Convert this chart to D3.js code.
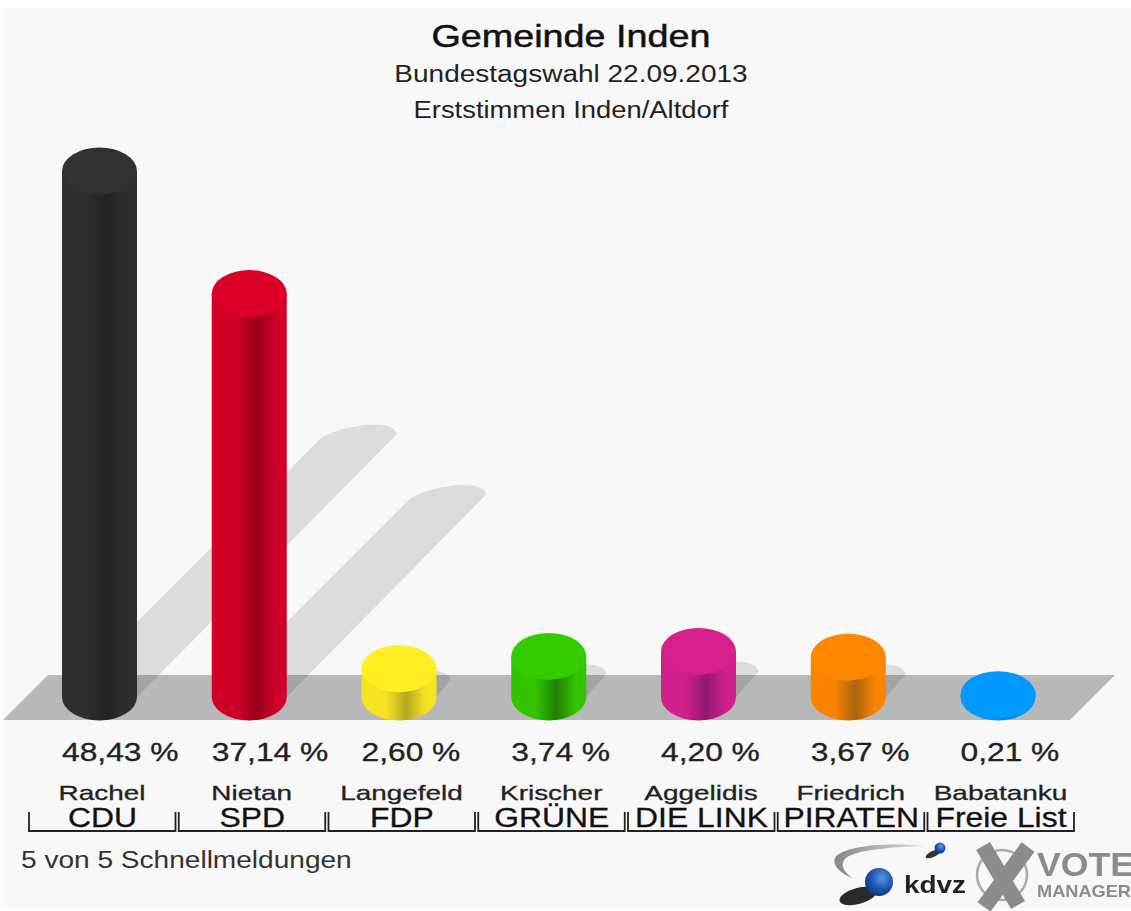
<!DOCTYPE html>
<html>
<head>
<meta charset="utf-8">
<script src="https://cdn.jsdelivr.net/npm/d3@7"></script>
<style>
  html, body { margin: 0; padding: 0; background: #fff; }
  svg { display: block; filter: blur(0.6px); }
  text { font-family: "Liberation Sans", Arial, sans-serif; }
</style>
</head>
<body>
<svg width="1131" height="911"></svg>
<script>
const parties = ["CDU", "SPD", "FDP", "GRÜNE", "DIE LINK", "PIRATEN", "Freie List"];
const candidates = ["Rachel", "Nietan", "Langefeld", "Krischer", "Aggelidis", "Friedrich", "Babatanku"];
const values = [48.43, 37.14, 2.60, 3.74, 4.20, 3.67, 0.21];
const valueLabels = ["48,43 %", "37,14 %", "2,60 %", "3,74 %", "4,20 %", "3,67 %", "0,21 %"];
const topColors = ["#313131", "#dc0028", "#ffee22", "#33cc00", "#d8208c", "#ff8800", "#0099ff"];
const sideColors = ["#2e2e2e", "#d00028", "#f6e422", "#33c400", "#d0208c", "#f88400", "#0099ff"];
const darkColors = ["#232323", "#980018", "#b8a820", "#1f8000", "#901870", "#ac6410", "#0088e8"];

const svg = d3.select("svg");
const barRx = 37.5;
const barRy = 23.5;

const x = d3.scalePoint()
  .domain(parties)
  .range([99.5, 998]);

const y = d3.scaleLinear()
  .domain([0, 48.43])
  .range([697, 171]);

// the reference text is wider than the font, stretch it after measuring
function stretch(sel, factor) {
  sel.each(function () {
    d3.select(this)
      .attr("textLength", this.getComputedTextLength() * factor)
      .attr("lengthAdjust", "spacingAndGlyphs");
  });
}

// background panel
svg.append("rect")
  .attr("x", 3).attr("y", 8)
  .attr("width", 1128).attr("height", 900)
  .attr("fill", "#f8f8f8");

// floor
svg.append("path")
  .attr("d", "M3,720 L48,675 L1115,675 L1070,720 Z")
  .attr("fill", "#b8b8b8");

// gradients for the cylinder sides
const defs = svg.append("defs");
parties.forEach((p, i) => {
  const grad = defs.append("linearGradient")
    .attr("id", "side" + i)
    .attr("x1", "0%").attr("x2", "100%");
  grad.append("stop").attr("offset", "0%").attr("stop-color", sideColors[i]);
  grad.append("stop").attr("offset", "32%").attr("stop-color", sideColors[i]);
  grad.append("stop").attr("offset", "60%").attr("stop-color", darkColors[i]);
  grad.append("stop").attr("offset", "86%").attr("stop-color", sideColors[i]);
  grad.append("stop").attr("offset", "100%").attr("stop-color", sideColors[i]);
});

// shadows go up and to the right at 45 degrees, the end is a skewed cap
const shadowFactor = 0.494;
svg.append("g").selectAll("path")
  .data(parties)
  .join("path")
  .attr("d", (d, i) => {
    const cx = x(d);
    const s = (y(0) - y(values[i])) * shadowFactor;
    const left = cx + s - barRx;
    const top = y(0) - s;
    return `M${cx - barRx},${y(0)} L${left},${top}`
      + ` C${left + 22},${top - 12} ${left + 72},${top - 20} ${left + 75},${top - 3}`
      + ` L${cx + barRx},${y(0)} Z`;
  })
  .attr("fill", "#000")
  .attr("opacity", 0.11);

// cylinders
const bars = svg.append("g").selectAll("g")
  .data(parties)
  .join("g");

bars.append("path")
  .attr("d", (d, i) => {
    const cx = x(d);
    return `M${cx - barRx},${y(values[i])} L${cx - barRx},${y(0)}`
      + ` A${barRx},${barRy} 0 0 0 ${cx + barRx},${y(0)}`
      + ` L${cx + barRx},${y(values[i])} Z`;
  })
  .attr("fill", (d, i) => `url(#side${i})`);

bars.append("ellipse")
  .attr("cx", d => x(d))
  .attr("cy", (d, i) => y(values[i]))
  .attr("rx", barRx)
  .attr("ry", barRy)
  .attr("fill", (d, i) => topColors[i]);

// titles
svg.append("text")
  .attr("x", 571).attr("y", 47)
  .attr("text-anchor", "middle")
  .attr("font-size", 32)
  .attr("fill", "#111")
  .attr("stroke", "#111")
  .attr("stroke-width", 0.5)
  .text("Gemeinde Inden")
  .call(stretch, 1.18);

svg.append("text")
  .attr("x", 571).attr("y", 82)
  .attr("text-anchor", "middle")
  .attr("font-size", 23)
  .attr("fill", "#222")
  .text("Bundestagswahl 22.09.2013")
  .call(stretch, 1.217);

svg.append("text")
  .attr("x", 571).attr("y", 118)
  .attr("text-anchor", "middle")
  .attr("font-size", 23)
  .attr("fill", "#222")
  .text("Erststimmen Inden/Altdorf")
  .call(stretch, 1.19);

// labels under the floor
svg.append("g").selectAll("text")
  .data(parties)
  .join("text")
  .attr("x", d => x(d) - barRx)
  .attr("y", 761)
  .attr("font-size", 25)
  .attr("fill", "#222")
  .attr("stroke", "#222")
  .attr("stroke-width", 0.3)
  .text((d, i) => valueLabels[i])
  .call(stretch, 1.27);

svg.append("g").selectAll("text")
  .data(parties)
  .join("text")
  .attr("x", d => x(d) + 2.5)
  .attr("y", 800)
  .attr("text-anchor", "middle")
  .attr("font-size", 21)
  .attr("fill", "#222")
  .attr("stroke", "#222")
  .attr("stroke-width", 0.3)
  .text((d, i) => candidates[i])
  .call(stretch, 1.33);

svg.append("g").selectAll("text")
  .data(parties)
  .join("text")
  .attr("x", d => x(d) + 3)
  .attr("y", 827)
  .attr("text-anchor", "middle")
  .attr("font-size", 27)
  .attr("fill", "#111")
  .attr("stroke", "#111")
  .attr("stroke-width", 0.3)
  .text(d => d)
  .call(stretch, 1.18);

// brackets
svg.append("g").selectAll("path")
  .data(parties)
  .join("path")
  .attr("d", d => {
    const cx = x(d);
    return `M${cx - 70.5},812 V831 H${cx + 76} V812`;
  })
  .attr("fill", "none")
  .attr("stroke", "#222")
  .attr("stroke-width", 1.8);

svg.append("text")
  .attr("x", 21).attr("y", 868)
  .attr("font-size", 23)
  .attr("fill", "#333")
  .text("5 von 5 Schnellmeldungen")
  .call(stretch, 1.22);

// kdvz logo
const logo = svg.append("g");
const sphere = defs.append("radialGradient")
  .attr("id", "sphere")
  .attr("cx", "60%").attr("cy", "35%").attr("r", "65%");
sphere.append("stop").attr("offset", "0%").attr("stop-color", "#5f96e0");
sphere.append("stop").attr("offset", "60%").attr("stop-color", "#1f55b0");
sphere.append("stop").attr("offset", "100%").attr("stop-color", "#123a80");

const swoosh = defs.append("linearGradient").attr("id", "swoosh");
swoosh.append("stop").attr("offset", "0%").attr("stop-color", "#888");
swoosh.append("stop").attr("offset", "100%").attr("stop-color", "#ddd");

logo.append("path")
  .attr("d", "M925,846 C885,842 842,846 835,858 C832,866 842,874 852,878 C842,870 840,864 846,858 C856,850 890,847 925,846 Z")
  .attr("fill", "url(#swoosh)");
logo.append("ellipse")
  .attr("cx", 858).attr("cy", 896).attr("rx", 19).attr("ry", 8)
  .attr("transform", "rotate(-15 858 896)")
  .attr("fill", "#2a2a2a");
logo.append("circle")
  .attr("cx", 879).attr("cy", 882).attr("r", 14)
  .attr("fill", "url(#sphere)");
logo.append("ellipse")
  .attr("cx", 933).attr("cy", 854).attr("rx", 8).attr("ry", 3)
  .attr("transform", "rotate(-25 933 854)")
  .attr("fill", "#333");
logo.append("circle")
  .attr("cx", 940).attr("cy", 848).attr("r", 5.5)
  .attr("fill", "url(#sphere)");
logo.append("text")
  .attr("x", 904).attr("y", 893)
  .attr("font-family", "Liberation Serif, serif")
  .attr("font-weight", "bold")
  .attr("font-size", 24)
  .attr("textLength", 62)
  .attr("lengthAdjust", "spacingAndGlyphs")
  .attr("fill", "#222")
  .text("kdvz");

// vote manager logo
logo.append("circle")
  .attr("cx", 1002).attr("cy", 875).attr("r", 25)
  .attr("fill", "none")
  .attr("stroke", "#aaa")
  .attr("stroke-width", 2.5);
logo.append("path")
  .attr("d", "M983,846 L1018,905 M1028,847 L984,907")
  .attr("fill", "none")
  .attr("stroke", "#8c8c8c")
  .attr("stroke-width", 16);
logo.append("text")
  .attr("x", 1037).attr("y", 876)
  .attr("font-weight", "bold")
  .attr("font-size", 33)
  .attr("textLength", 97)
  .attr("lengthAdjust", "spacingAndGlyphs")
  .attr("fill", "#8c8c8c")
  .text("VOTE");
logo.append("text")
  .attr("x", 1037).attr("y", 897)
  .attr("font-weight", "bold")
  .attr("font-size", 17)
  .attr("textLength", 94)
  .attr("lengthAdjust", "spacingAndGlyphs")
  .attr("fill", "#8c8c8c")
  .text("MANAGER");
</script>
</body>
</html>
